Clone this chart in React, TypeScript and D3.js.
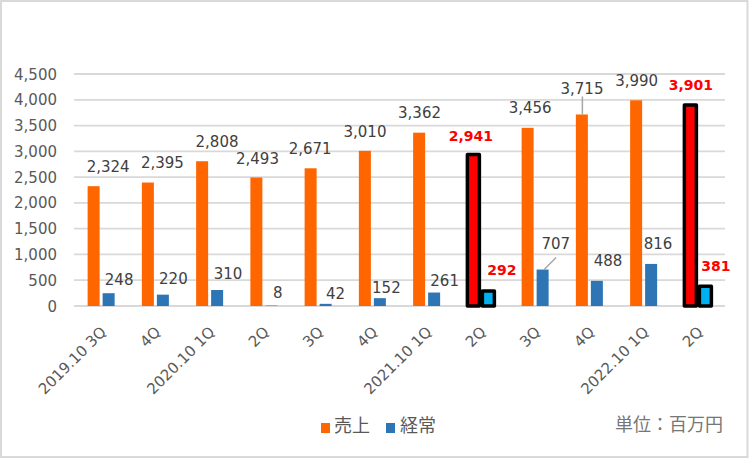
import React from "react";
import * as d3 from "d3";

const categories = ["2019.10 3Q", "4Q", "2020.10 1Q", "2Q", "3Q", "4Q", "2021.10 1Q", "2Q", "3Q", "4Q", "2022.10 1Q", "2Q"];
const sales = [2324, 2395, 2808, 2493, 2671, 3010, 3362, 2941, 3456, 3715, 3990, 3901];
const profit = [248, 220, 310, 8, 42, 152, 261, 292, 707, 488, 816, 381];
const highlighted = [7, 11];
const yTicks = [0, 500, 1000, 1500, 2000, 2500, 3000, 3500, 4000, 4500];
const seriesNames = ["売上", "経常"];
const unitLabel = "単位：百万円";

// label layout nudges (dx from group center, gap above bar top)
const salesLabelDx = [7, 7, 7.4, -6.4, -8, -7.4, -7.1, -10, -5, -7.4, -7, -7];
const salesLabelGap = [20, 20, 20, 19, 20, 19, 20, 19, 20, 26, 20, 20];
const profitLabelDx = [18, 18, 18.4, 14, 17.4, 14, 18, 21, 20.7, 18.6, 14.4, 18];
const profitLabelGap = [13.3, 16, 17, 13, 10.5, 10.5, 12.5, 21, 26, 20, 20, 21];

const W = 750;
const H = 459;
const fmt = d3.format(",");
const numFont = "'DejaVu Sans', sans-serif";
const cjkFont = "'Noto Sans CJK JP', sans-serif";

export default function App() {
  const idx = categories.map((_, i) => i);
  const x = d3.scaleBand<number>().domain(idx).range([74, 725]).paddingInner(0).paddingOuter(0);
  const inner = d3.scaleBand<string>().domain(["sales", "profit"]).range([-13.5, 13.5]).paddingInner(0.2).paddingOuter(0);
  const y = d3.scaleLinear().domain([0, 4500]).range([306, 74]);
  const bw = inner.bandwidth();
  const cx = (i: number) => (x(i) as number) + x.bandwidth() / 2;

  return (
    <svg width={W} height={H} style={{ position: "absolute", left: 0, top: 0, display: "block", background: "#fff" }}>
      <rect x={1} y={1} width={746.5} height={456} fill="#fff" stroke="#D9D9D9" strokeWidth={2} />
      {yTicks.map((t) => (
        <g key={t}>
          <line x1={74} x2={725} y1={y(t)} y2={y(t)} stroke="#D9D9D9" strokeWidth={1.8} />
          <text x={57} y={y(t) + 5.5} textAnchor="end" fontFamily={numFont} fontSize={15} fill="#595959">
            {fmt(t)}
          </text>
        </g>
      ))}
      {idx.map((i) => {
        const c = cx(i);
        const hl = highlighted.includes(i);
        const sx = c + (inner("sales") as number);
        const px = c + (inner("profit") as number);
        const sTop = y(sales[i]);
        const pTop = y(profit[i]);
        const base = y(0);
        return (
          <g key={i}>
            <rect x={sx} y={sTop} width={bw} height={base - sTop} fill={hl ? "#FF0000" : "#FF6600"}
              stroke={hl ? "#000" : "none"} strokeWidth={hl ? 3.5 : 0} strokeLinejoin="round" />
            <rect x={px} y={pTop} width={bw} height={Math.max(0, base - pTop)} fill={hl ? "#00B0F0" : "#2E75B6"}
              stroke={hl ? "#000" : "none"} strokeWidth={hl ? 3.5 : 0} strokeLinejoin="round" />
          </g>
        );
      })}
      {/* leader lines */}
      <line x1={cx(9) - 7} x2={cx(9) - 7} y1={y(sales[9])} y2={y(sales[9]) - salesLabelGap[9] + 8} stroke="#A6A6A6" strokeWidth={1.5} />
      <line x1={cx(8) + 9} y1={y(profit[8])} x2={cx(8) + 21} y2={y(profit[8]) - profitLabelGap[8] + 14} stroke="#A6A6A6" strokeWidth={1.5} />
      {idx.map((i) => {
        const hl = highlighted.includes(i);
        const c = cx(i);
        return (
          <g key={"l" + i}>
            <text x={c + salesLabelDx[i]} y={y(sales[i]) - salesLabelGap[i] + 5.5} textAnchor="middle"
              fontFamily={numFont} fontSize={hl ? 14 : 15} fontWeight={hl ? "bold" : "normal"} fill={hl ? "#FF0000" : "#404040"}>
              {fmt(sales[i])}
            </text>
            <text x={c + profitLabelDx[i]} y={y(profit[i]) - profitLabelGap[i] + 5.5} textAnchor="middle"
              fontFamily={numFont} fontSize={hl ? 14 : 15} fontWeight={hl ? "bold" : "normal"} fill={hl ? "#FF0000" : "#404040"}>
              {fmt(profit[i])}
            </text>
          </g>
        );
      })}
      {idx.map((i) => (
        <text key={"x" + i} transform={`translate(${cx(i) + 6},${333}) rotate(-45)`} textAnchor="end"
          fontFamily={numFont} fontSize={15} fill="#595959">
          {categories[i]}
        </text>
      ))}
      <rect x={321} y={423} width={9} height={10} fill="#FF6600" />
      <text x={334} y={432} fontFamily={cjkFont} fontSize={18} fill="#595959">{seriesNames[0]}</text>
      <rect x={386} y={423} width={9} height={10} fill="#2E75B6" />
      <text x={400} y={432} fontFamily={cjkFont} fontSize={18} fill="#595959">{seriesNames[1]}</text>
      <text x={615} y={431} fontFamily={cjkFont} fontSize={18} fill="#767676">{unitLabel}</text>
    </svg>
  );
}
